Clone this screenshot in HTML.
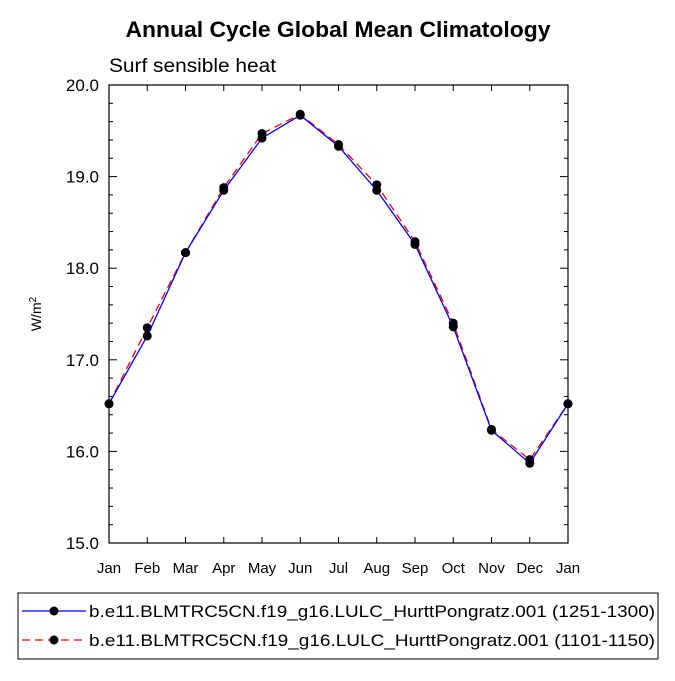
<!DOCTYPE html>
<html><head><meta charset="utf-8"><style>
body{margin:0;background:#fff;}
svg text{font-family:"Liberation Sans",Arial,sans-serif;fill:#000;}
</style></head><body>
<svg width="675" height="676" id="c">
<text x="338" y="37" text-anchor="middle" font-size="22" font-weight="bold" textLength="425" lengthAdjust="spacingAndGlyphs">Annual Cycle Global Mean Climatology</text>
<text x="109" y="72" font-size="19" textLength="167" lengthAdjust="spacingAndGlyphs">Surf sensible heat</text>
<text transform="translate(41,314) rotate(-90)" text-anchor="middle" font-size="14">W/m<tspan dy="-5" font-size="10">2</tspan></text>
<g id="axes"></g>
<g id="marks"></g>
<rect x="18" y="593" width="640" height="66" fill="none" stroke="#000" stroke-width="1"/>
<g>
<line x1="22" y1="611" x2="86" y2="611" stroke="#0000ff" stroke-width="1.3"/>
<circle cx="54" cy="611" r="4.5" fill="#000"/>
<text x="89" y="617" font-size="17" textLength="566" lengthAdjust="spacingAndGlyphs">b.e11.BLMTRC5CN.f19_g16.LULC_HurttPongratz.001 (1251-1300)</text>
</g>
<g>
<line x1="22" y1="640" x2="86" y2="640" stroke="#ff0000" stroke-width="1.3" stroke-dasharray="8,5"/>
<circle cx="54" cy="640" r="4.5" fill="#000"/>
<text x="89" y="646" font-size="17" textLength="566" lengthAdjust="spacingAndGlyphs">b.e11.BLMTRC5CN.f19_g16.LULC_HurttPongratz.001 (1101-1150)</text>
</g>
</svg>
<script>
const months=["Jan","Feb","Mar","Apr","May","Jun","Jul","Aug","Sep","Oct","Nov","Dec","Jan"];
const seriesA=[16.52,17.26,18.17,18.85,19.42,19.67,19.33,18.85,18.26,17.36,16.23,15.87,16.52];
const seriesB=[16.52,17.35,18.17,18.88,19.47,19.68,19.35,18.91,18.29,17.40,16.24,15.91,16.52];
const yTicks=[15.0,16.0,17.0,18.0,19.0,20.0];
const X0=109,X1=568,Y0=85,Y1=543,YMIN=15,YMAX=20;
const xs=i=>X0+(X1-X0)*i/(months.length-1);
const ys=v=>Y1-(v-YMIN)/(YMAX-YMIN)*(Y1-Y0);
const NS="http://www.w3.org/2000/svg";
function mk(t,a,p){const e=document.createElementNS(NS,t);for(const k in a)e.setAttribute(k,a[k]);p.appendChild(e);return e;}
const ax=document.getElementById('axes'),mg=document.getElementById('marks');
const fr=mk('rect',{x:X0,y:Y0,width:X1-X0,height:Y1-Y0,fill:'none',stroke:'#000','stroke-width':1.2},ax);


months.forEach((m,i)=>{
  const x=xs(i);
  mk('line',{x1:x,y1:Y1,x2:x,y2:Y1-6,stroke:'#000'},ax);
  mk('line',{x1:x,y1:Y0,x2:x,y2:Y0+6,stroke:'#000'},ax);
  const t=mk('text',{x:x,y:Y1+30,'text-anchor':'middle','font-size':15},ax);
  t.textContent=m;
  
  
});
for(let v=YMIN;v<=YMAX+1e-6;v+=0.2){
  const y=ys(v);const major=Math.abs(v-Math.round(v))<1e-6;const l=major?8:4;
  mk('line',{x1:X0,y1:y,x2:X0+l,y2:y,stroke:'#000'},ax);
  mk('line',{x1:X1,y1:y,x2:X1-l,y2:y,stroke:'#000'},ax);
}
yTicks.forEach(v=>{
  const t=mk('text',{x:X0-10,y:ys(v)+6,'text-anchor':'end','font-size':17},ax);
  t.textContent=v.toFixed(1);
  
  
});
function draw(vals,color,dash,name){
  const pts=vals.map((v,i)=>xs(i)+','+ys(v)).join(' ');
  const p=mk('polyline',{points:pts,fill:'none',stroke:color,'stroke-width':1.3,'stroke-dasharray':dash},mg);
  
  
  vals.forEach((v,i)=>{
    const c=mk('circle',{cx:xs(i),cy:ys(v),r:4.5,fill:'#000'},mg);
    
    
  });
}
draw(seriesB,'#ff0000','8,5','series-1101-1150');
draw(seriesA,'#0000ff','none','series-1251-1300');
</script>
</body></html>
